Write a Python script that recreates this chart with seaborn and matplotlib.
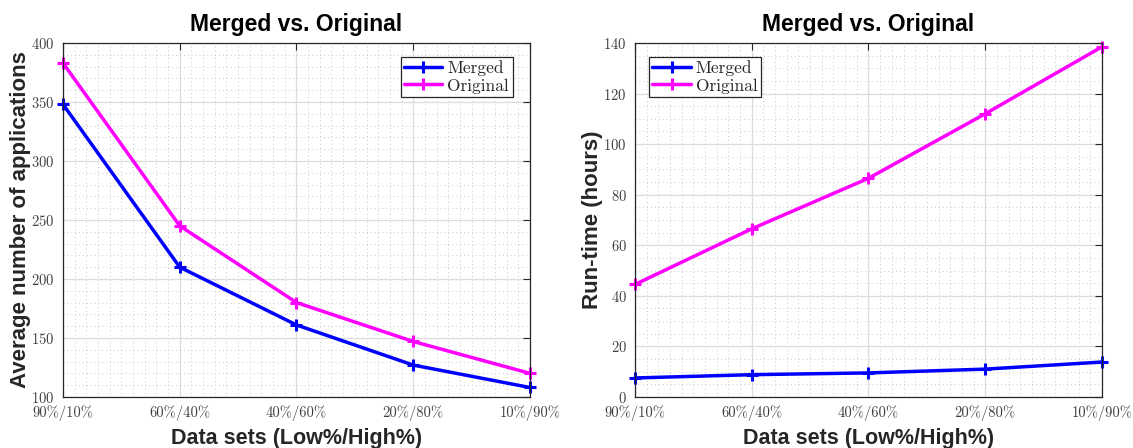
import matplotlib
matplotlib.use("Agg")
import matplotlib.pyplot as plt
import numpy as np
import pandas as pd
import seaborn as sns
from matplotlib.ticker import MultipleLocator

datasets = ['90%/10%', '60%/40%', '40%/60%', '20%/80%', '10%/90%']
series = ['Merged', 'Original']

apps_merged = [348, 210, 161, 127, 108]
apps_original = [383, 245, 180, 147, 120]

runtime_merged = [7.5, 8.8, 9.5, 11.0, 13.8]
runtime_original = [44.5, 66.5, 86.5, 112.0, 138.5]

colors = {'Merged': '#0000ff', 'Original': '#ff00ff'}

sns.set_style("white")
plt.rcParams['font.family'] = ['cmr10', 'DejaVu Serif']
plt.rcParams['axes.formatter.use_mathtext'] = True
plt.rcParams['mathtext.fontset'] = 'cm'


def long_frame(merged, original):
    pos = list(range(1, len(datasets) + 1))
    return pd.DataFrame({
        'pos': pos * 2,
        'value': list(merged) + list(original),
        'series': ['Merged'] * len(merged) + ['Original'] * len(original),
    })


def style_axes(ax, ylim, ymajor, yminor, ylabel, legend_loc, legend_anchor):
    ax.set_xlim(1, 5)
    ax.set_ylim(*ylim)
    ax.set_xticks(range(1, 6))
    ax.set_xticklabels(datasets)
    ax.xaxis.set_minor_locator(MultipleLocator(0.1))
    ax.yaxis.set_major_locator(MultipleLocator(ymajor))
    ax.yaxis.set_minor_locator(MultipleLocator(yminor))
    ax.grid(which='major', color='#dcdcdc', linewidth=0.9, linestyle='-')
    ax.grid(which='minor', color='#c8c8c8', linewidth=0.7, linestyle=(0, (1, 3)))
    ax.set_axisbelow(True)
    ax.tick_params(which='major', direction='in', length=5, width=0.8, top=True, right=True,
                   labelsize=10.5, colors='#262626', labelcolor='#404040', pad=6)
    ax.tick_params(which='minor', length=0, top=True, right=True)
    for s in ax.spines.values():
        s.set_visible(True)
        s.set_color('#262626')
        s.set_linewidth(0.9)
    ax.set_title('Merged vs. Original', fontsize=16.5, fontweight='bold',
                 family='Liberation Sans', color='black', pad=9)
    ax.set_xlabel('Data sets (Low%/High%)', fontsize=15.5, fontweight='bold',
                  family='Liberation Sans', color='#262626', labelpad=5)
    ax.set_ylabel(ylabel, fontsize=16, fontweight='bold',
                  family='Liberation Sans', color='#262626', labelpad=0)

    # seaborn draws white marker edges; MATLAB-style '+' needs the line colour
    for line in ax.get_lines():
        line.set_markeredgecolor(line.get_color())
        line.set_markerfacecolor(line.get_color())
    handles = [l for l in ax.get_lines() if l.get_label() in series]
    if ax.get_legend() is not None:
        ax.get_legend().remove()
    leg = ax.legend(handles, series, loc=legend_loc, bbox_to_anchor=legend_anchor,
                    fontsize=12.5, frameon=True, fancybox=False, framealpha=1,
                    edgecolor='#262626', borderpad=0.2, handlelength=2.2,
                    handletextpad=0.3, labelspacing=0.1, borderaxespad=0)
    leg.get_frame().set_linewidth(0.9)


fig, axes = plt.subplots(1, 2, figsize=(11.33, 4.48), dpi=100)
fig.subplots_adjust(left=0.0556, right=0.9726, top=0.904, bottom=0.114, wspace=0.225)

for ax, (m, o) in zip(axes, [(apps_merged, apps_original), (runtime_merged, runtime_original)]):
    df = long_frame(m, o)
    for name in series:
        sub = df[df['series'] == name]
        sns.lineplot(data=sub, x='pos', y='value', color=colors[name], label=name,
                     marker='+', markersize=9, markeredgewidth=2.2,
                     linewidth=2.5, ax=ax, clip_on=False)

style_axes(axes[0], (100, 400), 50, 10, 'Average number of applications',
           'upper right', (0.963, 0.96))
style_axes(axes[1], (0, 140), 20, 5, 'Run-time (hours)',
           'upper left', (0.03, 0.96))

fig.savefig('out.png', dpi=100)
